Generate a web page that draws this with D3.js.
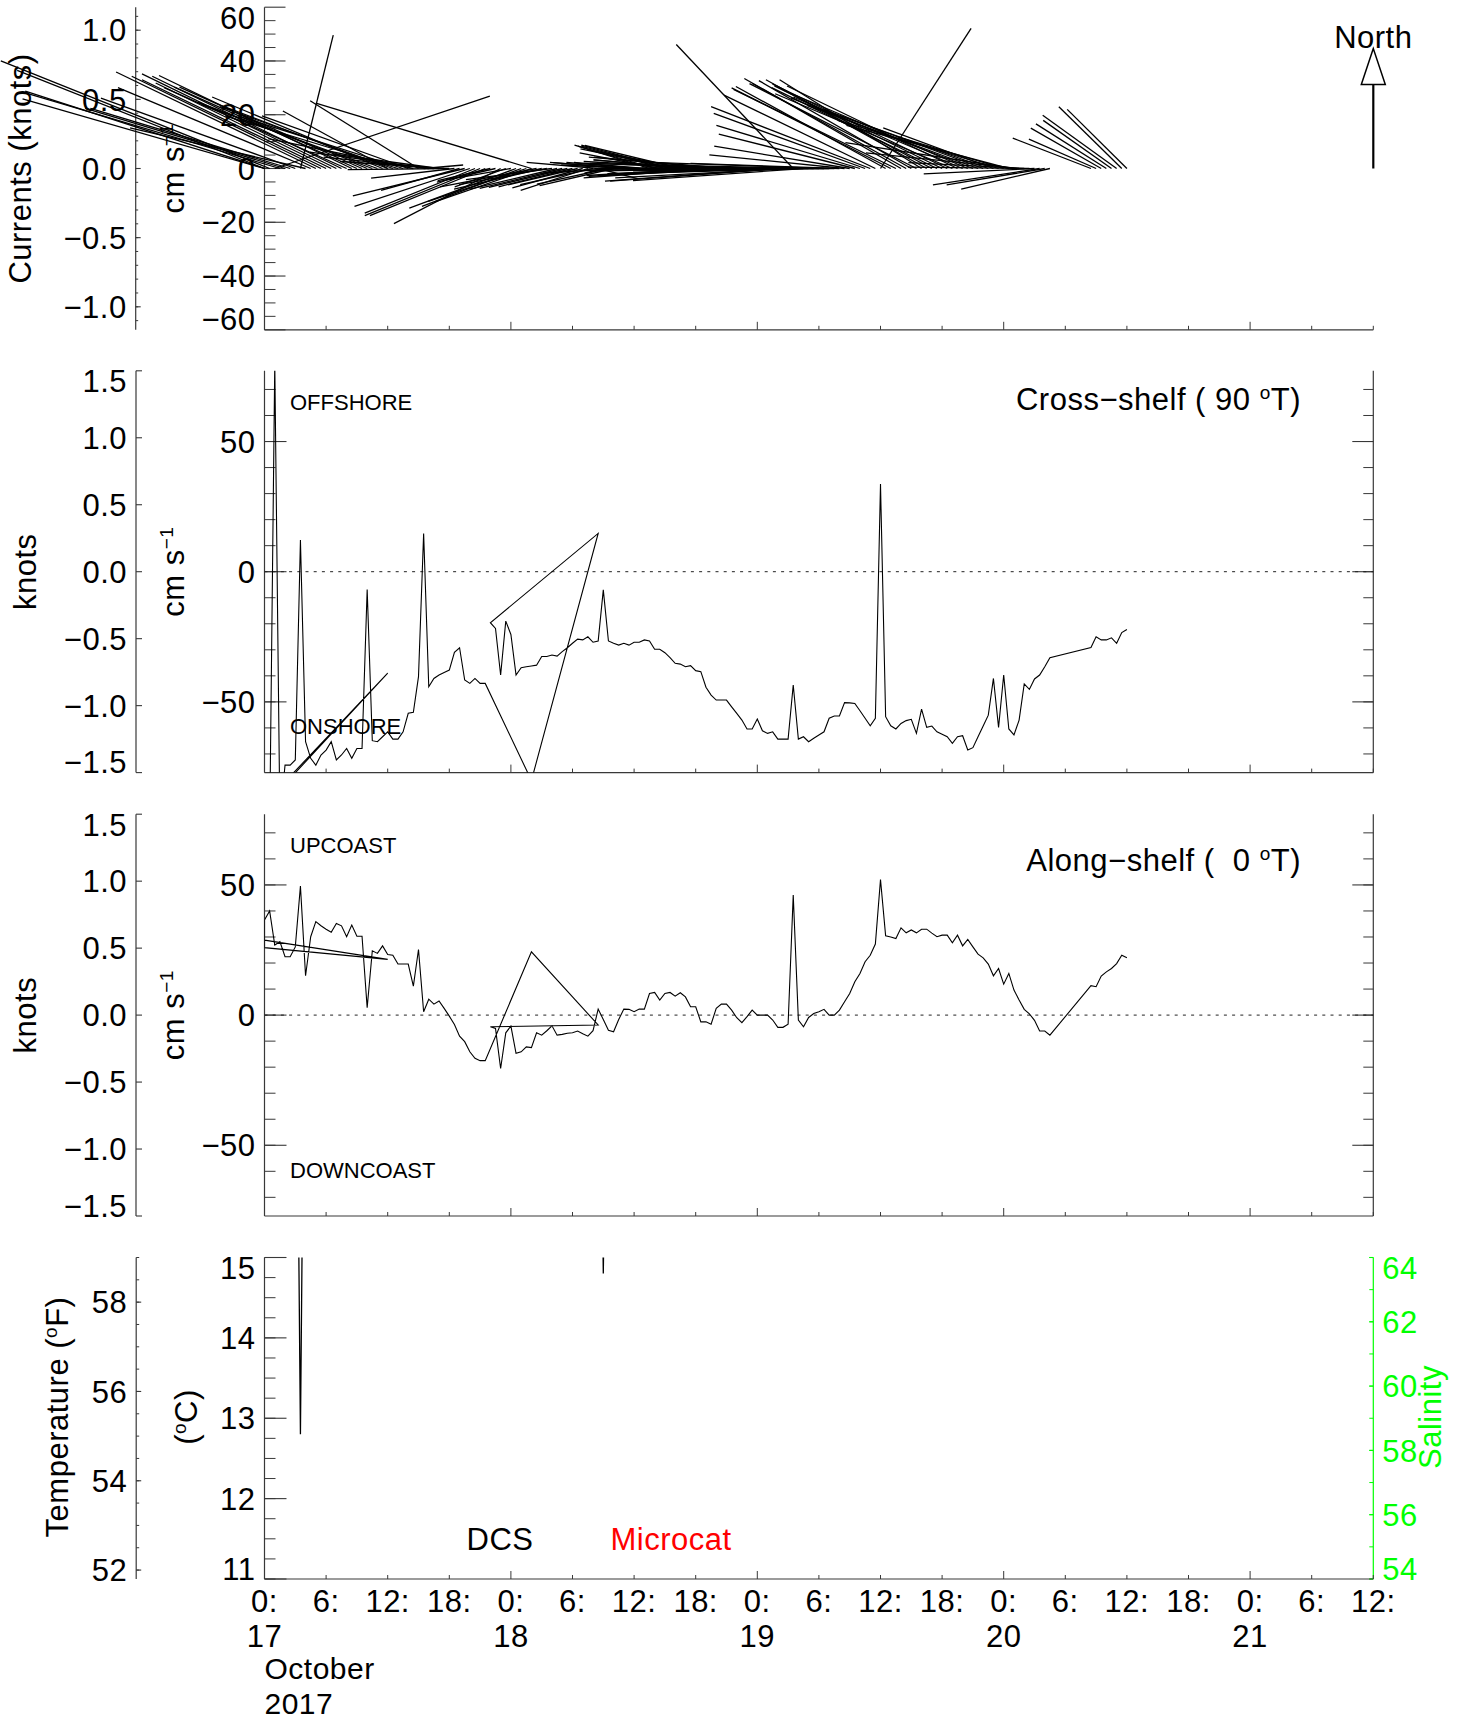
<!DOCTYPE html>
<html><head><meta charset="utf-8">
<script src="https://cdn.jsdelivr.net/npm/d3@7"></script>
<style>
body{margin:0;background:#fff}
text{font-family:"Liberation Sans",Arial,Helvetica,sans-serif;fill:#000}
</style>
</head><body>
<svg id="c" width="1465" height="1721"></svg>
<script>
// ---------------- DATA ----------------
// hours since 17 Oct 2017 00:00, in the order the records appear (some are out of order)
const hours = [0,12,0,
 0,0.5,1,1.5,2,2.5,3,3.5,4,4.5,5,5.5,6,6.5,7,7.5,8,8.5,9,9.5,10,10.5,11,11.5,12,12.5,13,13.5,14,14.5,15,15.5,16,16.5,17,17.5,18,18.5,19,19.5,20,20.5,21,21.5,
 26,32.5,
 22,22.5,23,23.5,24,24.5,25,25.5,26,26.5,27,27.5,28,28.5,29,29.5,30,30.5,31,31.5,32,32.5,33,33.5,
 34,34.5,35,35.5,36,36.5,37,37.5,38,38.5,39,39.5,40,40.5,41,41.5,42,42.5,43,43.5,44,44.5,45,45.5,46,46.5,47,47.5,
 48,48.5,49,49.5,50,50.5,51,51.5,52,52.5,53,53.5,54,54.5,55,55.5,56,56.5,57,57.5,58,58.5,59,59.5,60,60.5,61,61.5,
 62,62.5,63,63.5,64,64.5,65,65.5,66,66.5,67,67.5,68,68.5,69,69.5,70,70.5,71,71.5,72,72.5,73,73.5,74,74.5,75,75.5,76,76.5,
 80.5,81,81.5,82,82.5,83,83.5,84];
// cross-shelf (90 deg T) velocity, cm/s
const crossShelf = [-89,-39,-90,
 -92,-100,80,-95,-74.3,-74.3,-72.3,12.2,-65.3,-71.7,-74.3,-70.4,-68.5,-65.3,-72.3,-70.4,-67.9,-71.7,-67.9,-67.9,-6.8,-64.9,-65.3,-63.4,
 -61.5,-64.3,-64.3,-61.5,-54.4,-54.0,-40.3,14.7,-44.2,-41.0,-39.7,-38.7,-37.8,-31.0,-29.2,-41.6,-42.9,-41.0,-42.9,-42.9,
 -80.2,14.7,
 -19.6,-21.8,-39.7,-19.0,-24.1,-39.7,-36.9,-36.5,-36.2,-35.9,-32.6,-32.6,-32.0,-32.4,-30.7,-29.2,-27.5,-25.9,-26.2,-25.0,-27.1,-26.6,-7.0,-26.6,
 -27.5,-28.2,-27.5,-28.2,-27.1,-27.1,-26.2,-26.6,-29.8,-29.8,-31.1,-33.0,-35.2,-35.5,-36.5,-36.1,-38.0,-38.4,-44.4,-47.4,-49.3,-49.3,-49.3,-51.9,-54.4,-57.0,-60.4,-60.4,
 -56.6,-61.1,-62.1,-61.5,-64.3,-64.3,-64.3,-43.5,-64.3,-63.4,-65.3,-64.0,-62.7,-61.5,-56.3,-55.4,-55.4,-50.3,-50.4,-50.6,-53.4,-56.3,-59.2,-56.3,33.7,-55.7,-59.2,-60.4,
 -58.3,-57.2,-56.7,-62.1,-52.8,-59.8,-59.3,-61.5,-62.4,-63.4,-65.9,-63.4,-63.0,-68.5,-67.6,-63.4,-59.3,-55.1,-41.0,-59.8,-39.7,-60.4,-62.7,-57.0,-43.1,-45.2,-41.2,-39.7,-36.5,-33.0,
 -29.1,-25.0,-26.2,-26.2,-25.4,-27.5,-23.4,-22.2];
// along-shelf (0 deg T) velocity, cm/s
const alongShelf = [28.8,21.4,25.9,
 36.5,40.0,26.9,28.2,22.4,22.4,26.2,49.6,15.1,30.1,35.9,34.3,33.0,31.8,35.2,34.3,30.1,34.6,30.3,30.3,2.8,24.7,23.7,26.6,
 23.3,23.0,19.6,19.6,19.6,11.1,25.2,1.3,6.1,4.2,5.4,2.6,-0.4,-3.6,-8.1,-10.2,-14.1,-16.6,-17.5,-17.5,
 24.3,-3.8,
 -4.5,-5.1,-20.5,-6.8,-4.2,-14.7,-14.1,-12.2,-12.5,-6.8,-7.7,-6.0,-4.1,-7.7,-7.4,-7.0,-6.8,-6.1,-7.2,-8.1,-6.0,2.3,-1.7,-5.8,
 -6.4,-1.7,2.3,2.2,1.3,2.3,2.3,8.3,8.7,5.8,8.3,8.7,7.3,8.6,7.0,3.2,3.2,-2.6,-2.6,-3.5,2.6,4.2,4.2,1.9,-1.0,-2.9,-0.6,1.9,
 0,0,0,-1.9,-4.7,-4.7,-3.5,46.1,-1.9,-4.5,-0.9,0.6,1.3,2.2,0,0,1.9,5.1,8.3,12.8,16.0,20.5,23.0,27.3,52.1,30.5,30.0,29.4,
 33.5,31.6,32.7,31.6,33.0,33.0,31.5,30.1,30.7,30.7,27.8,30.7,26.6,29.1,26.2,23.4,22.0,19.6,15.1,17.9,11.9,16.0,9.6,5.8,2.2,0.5,-2.0,-6.1,-6.1,-7.7,
 11.3,10.9,15.0,16.6,17.9,19.8,23.0,22.0];
// DCS temperature (deg C); values above 15 are off the chart
const tempHours = [3.0,3.5,4.0,32.5,33.0,33.5];
const tempC = [20,12.8,20,20,14.8,20];

// axis tick definitions
const timeTicks = [0,6,12,18,24,30,36,42,48,54,60,66,72,78,84,90,96,102,108];
const timeTickLabels = ["0:","6:","12:","18:","0:","6:","12:","18:","0:","6:","12:","18:","0:","6:","12:","18:","0:","6:","12:"];
const dayTickHours = [0,24,48,72,96];
const dayLabels = ["17","18","19","20","21"];
const monthLabel = "October", yearLabel = "2017";
const p1cmTicks = [-60,-40,-20,0,20,40,60];
const p1knotTicks = [-1,-0.5,0,0.5,1];
const p23cmTicks = [-50,0,50];
const p23knotTicks = [-1.5,-1,-0.5,0,0.5,1,1.5];
const tempCTicks = [11,12,13,14,15];
const tempFTicks = [52,54,56,58];
const salTicks = [54,56,58,60,62,64];
const northArrowSpeed = 44.6; // cm/s

// ---------------- LAYOUT ----------------
const KN = 51.444;
const FS = 31, LS = "0.5px";
const X0 = 264.5, X1 = 1373.3;
const x = d3.scaleLinear().domain([0,108]).range([X0,X1]);
const yS1 = d3.scaleLinear().domain([-60,60]).range([329.8,7.2]);
const yK1 = d3.scaleLinear().domain([-60/KN,60/KN]).range([329.8,7.2]);
const yS2 = d3.scaleLinear().domain([-1.5*KN,1.5*KN]).range([772.6,370.8]);
const yK2 = d3.scaleLinear().domain([-1.5,1.5]).range([772.6,370.8]);
const yS3 = d3.scaleLinear().domain([-1.5*KN,1.5*KN]).range([1216,814.2]);
const yK3 = d3.scaleLinear().domain([-1.5,1.5]).range([1216,814.2]);
const yT = d3.scaleLinear().domain([11,15]).range([1579,1257.5]);
const yF = d3.scaleLinear().domain([11*1.8+32,15*1.8+32]).range([1579,1257.5]);
const ySal = d3.scaleLinear().domain([54,64]).range([1579,1257.5]);
const AX = "#383838";
const fmt1 = d3.format(".1f");
const fmt0 = d3.format("d");

const svg = d3.select("#c");
const data = hours.map((h,i)=>({t:h,u:crossShelf[i],v:alongShelf[i]}));

function T(sel){ return sel.attr("font-size",FS).style("letter-spacing",LS); }

function axisY(o){
  const g = svg.append("g");
  const col = o.color||AX;
  const r = o.scale.range();
  g.append("line").attr("x1",o.x).attr("x2",o.x).attr("y1",r[0]).attr("y2",r[1]).attr("stroke",col).attr("stroke-width",1.2);
  (o.minors||[]).forEach(v=>{
    const y=o.scale(v);
    g.append("line").attr("x1",o.x).attr("x2",o.x+o.dir*o.minLen).attr("y1",y).attr("y2",y).attr("stroke",col).attr("stroke-width",1);
  });
  o.majors.forEach(v=>{
    const y=o.scale(v);
    g.append("line").attr("x1",o.x).attr("x2",o.x+o.dir*o.majLen).attr("y1",y).attr("y2",y).attr("stroke",col).attr("stroke-width",1.1);
  });
  if(o.labels){
    const d=o.scale.domain();
    o.labels.forEach(v=>{
      let y=o.scale(v);
      if(Math.abs(v-d[1])<1e-6) y+=10.5;
      if(Math.abs(v-d[0])<1e-6) y-=10.5;
      T(g.append("text")).attr("x",o.side==="right"?o.x+9:o.x-9).attr("y",y).attr("dy","0.36em")
        .attr("text-anchor",o.side==="right"?"start":"end")
        .style("fill",o.labelColor||"#000").text(o.fmt(v));
    });
  }
}
function axisX(y){
  const g=svg.append("g");
  g.append("line").attr("x1",X0).attr("x2",X1).attr("y1",y).attr("y2",y).attr("stroke",AX).attr("stroke-width",1.2);
  timeTicks.forEach(h=>{
    const len = dayTickHours.includes(h)?8:4;
    g.append("line").attr("x1",x(h)).attr("x2",x(h)).attr("y1",y).attr("y2",y-len).attr("stroke",AX).attr("stroke-width",1);
  });
}
function rotLabel(xb, yc, parts, color){
  const t = T(svg.append("text")).attr("transform",`translate(${xb},${yc}) rotate(-90)`)
    .attr("text-anchor","middle").style("fill",color||"#000").style("white-space","pre");
  parts.forEach(p=>{
    const s=t.append("tspan").text(p.s);
    if(p.sup){ s.attr("font-size",19).attr("dy",-11); }
    if(p.after){ s.attr("dy",11); }
  });
  return t;
}
function richText(xa, yb, parts, anchor){
  const t = T(svg.append("text")).attr("x",xa).attr("y",yb).attr("text-anchor",anchor).style("white-space","pre");
  parts.forEach(p=>{
    const s=t.append("tspan").text(p.s);
    if(p.sup){ s.attr("font-size",19).attr("dy",-11); }
    if(p.after){ s.attr("dy",11); }
  });
}
function clip(id, y1, y2){
  svg.append("clipPath").attr("id",id).append("rect").attr("x",X0).attr("y",y2).attr("width",X1-X0).attr("height",y1-y2);
}

// ---------------- PANEL 1 : stick plot ----------------
axisY({x:X0, scale:yS1, majors:p1cmTicks, minors:d3.range(-55,60,5), majLen:21, minLen:11, dir:1, labels:p1cmTicks, fmt:fmt0});
axisY({x:135.7, scale:yK1, majors:p1knotTicks, minors:d3.range(-11,12).map(i=>i/10), majLen:5, minLen:2.5, dir:1, labels:p1knotTicks, fmt:fmt1});
axisX(yS1.range()[0]);
rotLabel(31, yS1(0), [{s:"Currents (knots)"}]);
rotLabel(184, yS1(0), [{s:"cm s"},{s:"−1",sup:true}]);
svg.append("g").selectAll("line").data(data).join("line")
  .attr("x1",d=>x(d.t)).attr("y1",yS1(0))
  .attr("x2",d=>x(d.t)+(yS1(0)-yS1(d.u))).attr("y2",d=>yS1(d.v))
  .attr("stroke","#000").attr("stroke-width",1.3);
// North reference arrow
{
  const ax=x(108), y0=yS1(0), yTip=yS1(northArrowSpeed);
  const headLen=(y0-yTip)*0.3, hw=12;
  svg.append("line").attr("x1",ax).attr("x2",ax).attr("y1",y0).attr("y2",yTip+headLen).attr("stroke","#000").attr("stroke-width",2.2);
  svg.append("path").attr("d",`M${ax},${yTip}L${ax-hw},${yTip+headLen}L${ax+hw},${yTip+headLen}Z`)
    .attr("fill","#fff").attr("stroke","#000").attr("stroke-width",1.5);
  T(svg.append("text")).attr("x",ax).attr("y",yTip-0.5).attr("text-anchor","middle").text("North");
}

// ---------------- PANELS 2 & 3 : components ----------------
function compPanel(yS,yK,key,clipId,title,topLab,botLab,labBase){
  axisY({x:X0, scale:yS, majors:p23cmTicks, minors:d3.range(-70,71,10), majLen:22, minLen:11, dir:1, labels:p23cmTicks, fmt:fmt0});
  axisY({x:X1, scale:yS, majors:p23cmTicks, minors:d3.range(-70,71,10), majLen:21, minLen:10, dir:-1});
  axisY({x:136, scale:yK, majors:p23knotTicks, majLen:6, dir:1, labels:p23knotTicks, fmt:fmt1});
  axisX(yS.range()[0]);
  svg.append("line").attr("x1",X0).attr("x2",X1).attr("y1",yS(0)).attr("y2",yS(0))
    .attr("stroke","#222").attr("stroke-width",1).attr("stroke-dasharray","3,5.2");
  const r=yS.range();
  clip(clipId, r[0], r[1]);
  svg.append("path").datum(data).attr("clip-path",`url(#${clipId})`)
    .attr("d",d3.line().x(d=>x(d.t)).y(d=>yS(d[key])))
    .attr("fill","none").attr("stroke","#000").attr("stroke-width",1.1);
  svg.append("text").attr("x",290).attr("y",labBase[0]).attr("font-size",22).text(topLab);
  svg.append("text").attr("x",290).attr("y",labBase[1]).attr("font-size",22).text(botLab);
  richText(1301, labBase[2], title, "end");
  rotLabel(36, yS(0), [{s:"knots"}]);
  rotLabel(184, yS(0), [{s:"cm s"},{s:"−1",sup:true}]);
}
compPanel(yS2,yK2,"u","clip2",[{s:"Cross−shelf ( 90 "},{s:"o",sup:true},{s:"T)",after:true}],"OFFSHORE","ONSHORE",[410,734,410]);
compPanel(yS3,yK3,"v","clip3",[{s:"Along−shelf (  0 "},{s:"o",sup:true},{s:"T)",after:true}],"UPCOAST","DOWNCOAST",[853,1178,871]);

// ---------------- PANEL 4 : temperature / salinity ----------------
axisY({x:X0, scale:yT, majors:tempCTicks, minors:d3.range(11,15.01,0.25), majLen:22, minLen:11, dir:1, labels:tempCTicks, fmt:fmt0});
axisY({x:136.2, scale:yF, majors:tempFTicks, minors:d3.range(52,59.01,0.5), majLen:5, minLen:3, dir:1, labels:tempFTicks, fmt:fmt0});
axisY({x:X1, scale:ySal, majors:salTicks, minors:d3.range(54,64.01,1), majLen:4, minLen:4, dir:-1, labels:salTicks, fmt:fmt0, side:"right", color:"#00ff00", labelColor:"#00ff00"});
axisX(yT.range()[0]);
clip("clip4", yT.range()[0], yT.range()[1]);
svg.append("path").datum(tempHours.map((h,i)=>({t:h,c:tempC[i]}))).attr("clip-path","url(#clip4)")
  .attr("d",d3.line().x(d=>x(d.t)).y(d=>yT(d.c)))
  .attr("fill","none").attr("stroke","#000").attr("stroke-width",1.3);
rotLabel(68, 1417, [{s:"Temperature ("},{s:"o",sup:true},{s:"F)",after:true}]);
rotLabel(197, 1417, [{s:"("},{s:"o",sup:true},{s:"C)",after:true}]);
rotLabel(1441, 1417, [{s:"Salinity"}], "#00ff00");
T(svg.append("text")).attr("x",500).attr("y",1550).attr("text-anchor","middle").text("DCS");
T(svg.append("text")).attr("x",671).attr("y",1550).attr("text-anchor","middle").style("fill","#ff0000").text("Microcat");
// time labels
timeTicks.forEach((h,i)=>{
  T(svg.append("text")).attr("x",x(h)).attr("y",1612).attr("text-anchor","middle").text(timeTickLabels[i]);
});
dayTickHours.forEach((h,i)=>{
  T(svg.append("text")).attr("x",x(h)).attr("y",1647).attr("text-anchor","middle").text(dayLabels[i]);
});
svg.append("text").attr("x",X0).attr("y",1679).attr("font-size",30).style("letter-spacing",LS).text(monthLabel);
svg.append("text").attr("x",X0).attr("y",1713.5).attr("font-size",30).style("letter-spacing",LS).text(yearLabel);
</script>
</body></html>
